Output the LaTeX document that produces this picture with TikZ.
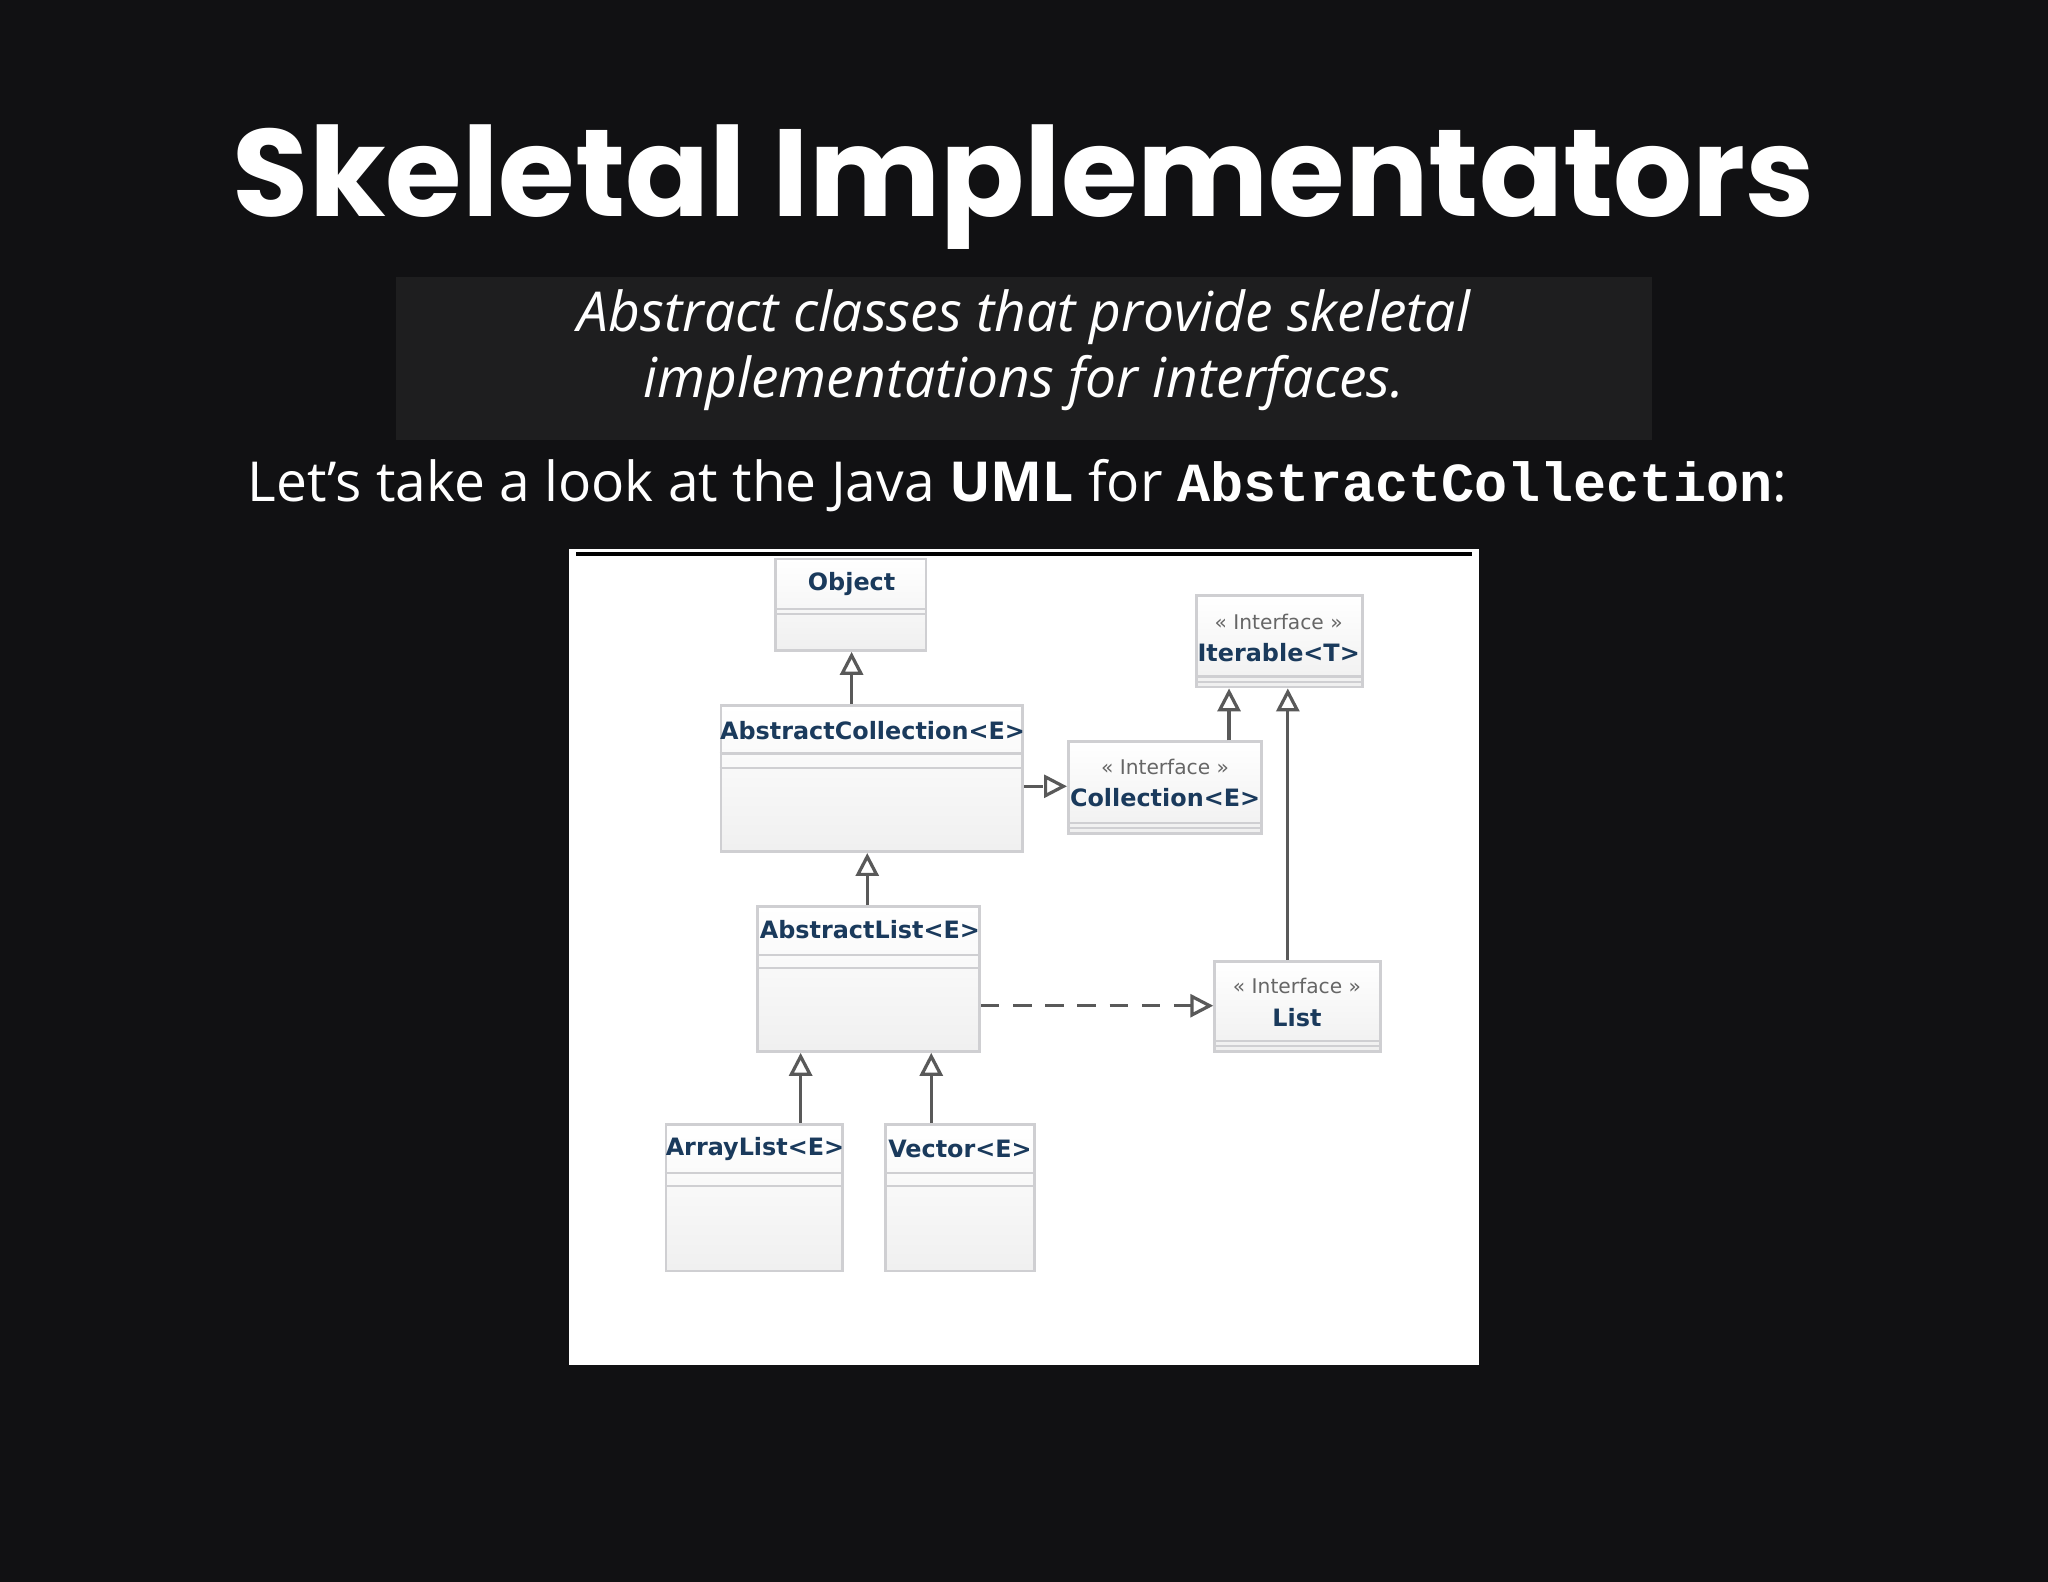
\documentclass[tikz,border=0pt]{standalone}
\usepackage{fontspec}
\setmainfont{Open Sans}
\newfontfamily\titlefont{Poppins}
\newfontfamily\umlfont{DejaVu Sans}
\setmonofont{Liberation Mono}
\usetikzlibrary{arrows.meta,positioning}
\definecolor{slidebg}{HTML}{111113}
\definecolor{quotebg}{HTML}{1E1E1F}
\definecolor{umlblue}{HTML}{1A3A5C}
\definecolor{umlgray}{HTML}{CFCFD2}
\begin{document}
\begin{tikzpicture}[
    x=0.01cm, y=-0.01cm,
    uml_box/.style={draw=umlgray, line width=0.6pt, top color=white, bottom color=gray!12, inner sep=0pt},
    uml_name/.style={font=\umlfont\bfseries\fontsize{5.2}{6}\selectfont, text=umlblue},
    uml_stereo/.style={font=\umlfont\fontsize{4.4}{5}\selectfont, text=gray!80!black},
    inherit/.style={draw=gray!70!black, line width=0.7pt, -{Triangle[open, length=5pt, width=5pt, fill=white]}},
    realize/.style={inherit, dashed, dash pattern=on 4pt off 3pt}
]
\useasboundingbox (0,0) rectangle (1568,1211);
\fill[slidebg] (0,0) rectangle (1568,1211);

% Heading and quote
\node[text=white, font=\titlefont\bfseries\fontsize{27}{30}\selectfont] (title) at (784,143) {Skeletal Implementators};
\fill[quotebg] (303,212) rectangle (1265,337);
\node[text=white, align=center, font=\itshape\fontsize{12}{14.5}\selectfont] (quote) at (784,268)
    {Abstract classes that provide skeletal\\implementations for interfaces.};
\node[text=white, font=\fontsize{12}{14}\selectfont] (intro) at (779,372)
    {Let's take a look at the Java \textbf{UML} for \texttt{\bfseries AbstractCollection}:};

% UML panel
\fill[white] (436,420) rectangle (1132,1045);
\draw[black, line width=1pt] (441,424) -- (1127,424);

% Class boxes
\node[uml_box, minimum width=1.15cm, minimum height=0.70cm] (obj) at (651.5,463) {};
\node[uml_box, minimum width=2.31cm, minimum height=1.12cm] (acoll) at (667.5,596) {};
\node[uml_box, minimum width=1.27cm, minimum height=0.70cm] (iter) at (979.5,491) {};
\node[uml_box, minimum width=1.48cm, minimum height=0.70cm] (coll) at (892,603) {};
\node[uml_box, minimum width=1.70cm, minimum height=1.11cm] (alist) at (665,749.5) {};
\node[uml_box, minimum width=1.27cm, minimum height=0.69cm] (list) at (993.5,770.5) {};
\node[uml_box, minimum width=1.35cm, minimum height=1.12cm] (arr) at (577.5,917) {};
\node[uml_box, minimum width=1.14cm, minimum height=1.12cm] (vec) at (735,917) {};

% Compartment lines
\foreach \b/\ya/\yb in {obj/466/470, acoll/577/588, alist/731/741, arr/898/908, vec/898/908, iter/518/522, coll/630/634, list/797/801}{
    \draw[umlgray, line width=0.5pt] (\b.west |- 0,\ya) -- (\b.east |- 0,\ya);
    \draw[umlgray, line width=0.5pt] (\b.west |- 0,\yb) -- (\b.east |- 0,\yb);
}

% Labels
\node[uml_name] (objt) at (652,447) {Object};
\node[uml_name] (acollt) at (668,559) {AbstractCollection<E>};
\node[uml_stereo] (iters) at (979,476) {« Interface »};
\node[uml_name] (itert) at (979,500) {Iterable<T>};
\node[uml_stereo] (colls) at (892,587) {« Interface »};
\node[uml_name] (collt) at (892,611) {Collection<E>};
\node[uml_name] (alistt) at (666,712) {AbstractList<E>};
\node[uml_stereo] (lists) at (993,755) {« Interface »};
\node[uml_name] (listt) at (993,779) {List};
\node[uml_name] (arrt) at (578,880) {ArrayList<E>};
\node[uml_name] (vect) at (735,880) {Vector<E>};

% Relations
\draw[inherit] (acoll.north -| 652,0) -- (obj.south -| 652,0);
\draw[inherit] (alist.north -| 664,0) -- (acoll.south -| 664,0);
\draw[inherit] (coll.north -| 941,0) -- (iter.south -| 941,0);
\draw[inherit] (list.north -| 986,0) -- (iter.south -| 986,0);
\draw[inherit] (arr.north -| 613,0) -- (alist.south -| 613,0);
\draw[inherit] (vec.north -| 713,0) -- (alist.south -| 713,0);
\draw[realize] (acoll.east |- 0,602) -- (coll.west |- 0,602);
\draw[realize] (alist.east |- 0,770) -- (list.west |- 0,770);
\end{tikzpicture}
\end{document}
